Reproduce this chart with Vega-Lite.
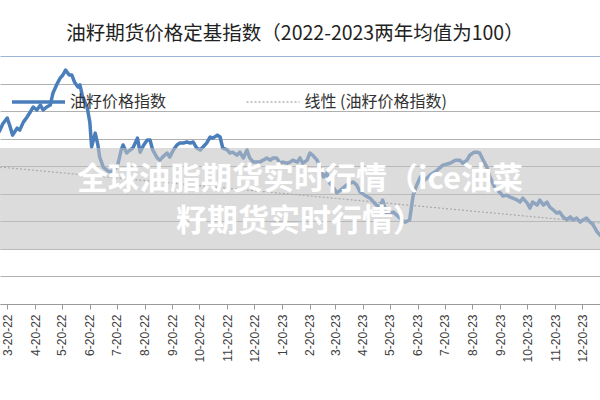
{
  "$schema": "https://vega.github.io/schema/vega-lite/v6.json",
  "width": 600,
  "height": 248,
  "autosize": {"type": "none"},
  "padding": {"top": 56, "left": 0, "right": 0, "bottom": 96},
  "background": "white",
  "config": {"view": {"stroke": null}},
  "title": {
    "text": "油籽期货价格定基指数（2022-2023两年均值为100）",
    "font": "Noto Sans CJK SC",
    "fontSize": 19.5,
    "fontWeight": "normal",
    "color": "#222222",
    "anchor": "middle",
    "offset": 12,
    "dx": -5
  },
  "datasets": {
    "price": [
      {"date": "2022-03-09", "value": 121.5, "series": "油籽价格指数"},
      {"date": "2022-03-12", "value": 123.1, "series": "油籽价格指数"},
      {"date": "2022-03-15", "value": 125.3, "series": "油籽价格指数"},
      {"date": "2022-03-20", "value": 127.5, "series": "油籽价格指数"},
      {"date": "2022-03-23", "value": 124.6, "series": "油籽价格指数"},
      {"date": "2022-03-26", "value": 121.3, "series": "油籽价格指数"},
      {"date": "2022-03-31", "value": 123.8, "series": "油籽价格指数"},
      {"date": "2022-04-03", "value": 123.1, "series": "油籽价格指数"},
      {"date": "2022-04-07", "value": 126.0, "series": "油籽价格指数"},
      {"date": "2022-04-11", "value": 127.8, "series": "油籽价格指数"},
      {"date": "2022-04-14", "value": 129.3, "series": "油籽价格指数"},
      {"date": "2022-04-18", "value": 131.5, "series": "油籽价格指数"},
      {"date": "2022-04-22", "value": 130.4, "series": "油籽价格指数"},
      {"date": "2022-04-26", "value": 132.2, "series": "油籽价格指数"},
      {"date": "2022-04-29", "value": 130.4, "series": "油籽价格指数"},
      {"date": "2022-05-03", "value": 131.5, "series": "油籽价格指数"},
      {"date": "2022-05-07", "value": 132.2, "series": "油籽价格指数"},
      {"date": "2022-05-10", "value": 136.6, "series": "油籽价格指数"},
      {"date": "2022-05-14", "value": 139.5, "series": "油籽价格指数"},
      {"date": "2022-05-18", "value": 142.0, "series": "油籽价格指数"},
      {"date": "2022-05-21", "value": 143.1, "series": "油籽价格指数"},
      {"date": "2022-05-24", "value": 144.9, "series": "油籽价格指数"},
      {"date": "2022-05-28", "value": 143.1, "series": "油籽价格指数"},
      {"date": "2022-05-31", "value": 143.1, "series": "油籽价格指数"},
      {"date": "2022-06-03", "value": 140.5, "series": "油籽价格指数"},
      {"date": "2022-06-07", "value": 138.7, "series": "油籽价格指数"},
      {"date": "2022-06-09", "value": 139.5, "series": "油籽价格指数"},
      {"date": "2022-06-12", "value": 135.1, "series": "油籽价格指数"},
      {"date": "2022-06-17", "value": 131.5, "series": "油籽价格指数"},
      {"date": "2022-06-20", "value": 126.0, "series": "油籽价格指数"},
      {"date": "2022-06-22", "value": 117.0, "series": "油籽价格指数"},
      {"date": "2022-06-26", "value": 122.0, "series": "油籽价格指数"},
      {"date": "2022-06-29", "value": 117.7, "series": "油籽价格指数"},
      {"date": "2022-07-01", "value": 113.3, "series": "油籽价格指数"},
      {"date": "2022-07-05", "value": 109.7, "series": "油籽价格指数"},
      {"date": "2022-07-09", "value": 108.6, "series": "油籽价格指数"},
      {"date": "2022-07-12", "value": 107.9, "series": "油籽价格指数"},
      {"date": "2022-07-17", "value": 108.6, "series": "油籽价格指数"},
      {"date": "2022-07-21", "value": 110.4, "series": "油籽价格指数"},
      {"date": "2022-07-25", "value": 115.9, "series": "油籽价格指数"},
      {"date": "2022-07-27", "value": 117.7, "series": "油籽价格指数"},
      {"date": "2022-07-31", "value": 114.8, "series": "油籽价格指数"},
      {"date": "2022-08-04", "value": 115.9, "series": "油籽价格指数"},
      {"date": "2022-08-07", "value": 116.6, "series": "油籽价格指数"},
      {"date": "2022-08-12", "value": 120.2, "series": "油籽价格指数"},
      {"date": "2022-08-15", "value": 115.1, "series": "油籽价格指数"},
      {"date": "2022-08-19", "value": 117.7, "series": "油籽价格指数"},
      {"date": "2022-08-23", "value": 119.5, "series": "油籽价格指数"},
      {"date": "2022-08-26", "value": 119.5, "series": "油籽价格指数"},
      {"date": "2022-08-29", "value": 115.9, "series": "油籽价格指数"},
      {"date": "2022-09-03", "value": 113.0, "series": "油籽价格指数"},
      {"date": "2022-09-06", "value": 112.2, "series": "油籽价格指数"},
      {"date": "2022-09-09", "value": 113.3, "series": "油籽价格指数"},
      {"date": "2022-09-14", "value": 114.8, "series": "油籽价格指数"},
      {"date": "2022-09-17", "value": 113.3, "series": "油籽价格指数"},
      {"date": "2022-09-21", "value": 115.9, "series": "油籽价格指数"},
      {"date": "2022-09-25", "value": 117.7, "series": "油籽价格指数"},
      {"date": "2022-09-28", "value": 118.4, "series": "油籽价格指数"},
      {"date": "2022-10-02", "value": 118.4, "series": "油籽价格指数"},
      {"date": "2022-10-06", "value": 118.8, "series": "油籽价格指数"},
      {"date": "2022-10-10", "value": 118.4, "series": "油籽价格指数"},
      {"date": "2022-10-13", "value": 118.8, "series": "油籽价格指数"},
      {"date": "2022-10-17", "value": 116.6, "series": "油籽价格指数"},
      {"date": "2022-10-21", "value": 115.9, "series": "油籽价格指数"},
      {"date": "2022-10-24", "value": 117.0, "series": "油籽价格指数"},
      {"date": "2022-10-28", "value": 118.4, "series": "油籽价格指数"},
      {"date": "2022-11-01", "value": 120.6, "series": "油籽价格指数"},
      {"date": "2022-11-04", "value": 120.2, "series": "油籽价格指数"},
      {"date": "2022-11-09", "value": 121.3, "series": "油籽价格指数"},
      {"date": "2022-11-12", "value": 120.6, "series": "油籽价格指数"},
      {"date": "2022-11-15", "value": 116.6, "series": "油籽价格指数"},
      {"date": "2022-11-20", "value": 115.9, "series": "油籽价格指数"},
      {"date": "2022-11-23", "value": 114.8, "series": "油籽价格指数"},
      {"date": "2022-11-26", "value": 115.1, "series": "油籽价格指数"},
      {"date": "2022-12-01", "value": 114.0, "series": "油籽价格指数"},
      {"date": "2022-12-04", "value": 115.1, "series": "油籽价格指数"},
      {"date": "2022-12-08", "value": 113.0, "series": "油籽价格指数"},
      {"date": "2022-12-12", "value": 115.9, "series": "油籽价格指数"},
      {"date": "2022-12-15", "value": 113.0, "series": "油籽价格指数"},
      {"date": "2022-12-19", "value": 111.5, "series": "油籽价格指数"},
      {"date": "2022-12-23", "value": 111.5, "series": "油籽价格指数"},
      {"date": "2022-12-26", "value": 111.5, "series": "油籽价格指数"},
      {"date": "2022-12-30", "value": 112.2, "series": "油籽价格指数"},
      {"date": "2023-01-03", "value": 113.0, "series": "油籽价格指数"},
      {"date": "2023-01-07", "value": 112.2, "series": "油籽价格指数"},
      {"date": "2023-01-10", "value": 113.0, "series": "油籽价格指数"},
      {"date": "2023-01-14", "value": 113.0, "series": "油籽价格指数"},
      {"date": "2023-01-18", "value": 111.1, "series": "油籽价格指数"},
      {"date": "2023-01-21", "value": 111.5, "series": "油籽价格指数"},
      {"date": "2023-01-26", "value": 111.1, "series": "油籽价格指数"},
      {"date": "2023-01-29", "value": 111.5, "series": "油籽价格指数"},
      {"date": "2023-02-01", "value": 112.2, "series": "油籽价格指数"},
      {"date": "2023-02-06", "value": 111.5, "series": "油籽价格指数"},
      {"date": "2023-02-09", "value": 113.0, "series": "油籽价格指数"},
      {"date": "2023-02-12", "value": 111.1, "series": "油籽价格指数"},
      {"date": "2023-02-17", "value": 112.2, "series": "油籽价格指数"},
      {"date": "2023-02-20", "value": 114.8, "series": "油籽价格指数"},
      {"date": "2023-02-23", "value": 114.0, "series": "油籽价格指数"},
      {"date": "2023-02-28", "value": 112.2, "series": "油籽价格指数"},
      {"date": "2023-03-03", "value": 109.7, "series": "油籽价格指数"},
      {"date": "2023-03-07", "value": 106.1, "series": "油籽价格指数"},
      {"date": "2023-03-11", "value": 107.5, "series": "油籽价格指数"},
      {"date": "2023-03-14", "value": 103.9, "series": "油籽价格指数"},
      {"date": "2023-03-18", "value": 102.4, "series": "油籽价格指数"},
      {"date": "2023-03-22", "value": 100.3, "series": "油籽价格指数"},
      {"date": "2023-03-26", "value": 101.3, "series": "油籽价格指数"},
      {"date": "2023-04-02", "value": 103.2, "series": "油籽价格指数"},
      {"date": "2023-04-09", "value": 104.3, "series": "油籽价格指数"},
      {"date": "2023-04-13", "value": 103.2, "series": "油籽价格指数"},
      {"date": "2023-04-17", "value": 100.6, "series": "油籽价格指数"},
      {"date": "2023-04-22", "value": 99.5, "series": "油籽价格指数"},
      {"date": "2023-04-28", "value": 98.4, "series": "油籽价格指数"},
      {"date": "2023-05-03", "value": 96.6, "series": "油籽价格指数"},
      {"date": "2023-05-09", "value": 94.8, "series": "油籽价格指数"},
      {"date": "2023-05-12", "value": 97.7, "series": "油籽价格指数"},
      {"date": "2023-05-17", "value": 92.3, "series": "油籽价格指数"},
      {"date": "2023-05-24", "value": 93.4, "series": "油籽价格指数"},
      {"date": "2023-05-31", "value": 91.2, "series": "油籽价格指数"},
      {"date": "2023-06-06", "value": 89.7, "series": "油籽价格指数"},
      {"date": "2023-06-11", "value": 90.5, "series": "油籽价格指数"},
      {"date": "2023-06-15", "value": 99.5, "series": "油籽价格指数"},
      {"date": "2023-06-19", "value": 103.2, "series": "油籽价格指数"},
      {"date": "2023-06-23", "value": 106.1, "series": "油籽价格指数"},
      {"date": "2023-06-28", "value": 105.0, "series": "油籽价格指数"},
      {"date": "2023-07-04", "value": 106.8, "series": "油籽价格指数"},
      {"date": "2023-07-12", "value": 108.6, "series": "油籽价格指数"},
      {"date": "2023-07-18", "value": 110.4, "series": "油籽价格指数"},
      {"date": "2023-07-26", "value": 111.1, "series": "油籽价格指数"},
      {"date": "2023-08-01", "value": 112.2, "series": "油籽价格指数"},
      {"date": "2023-08-06", "value": 112.2, "series": "油籽价格指数"},
      {"date": "2023-08-09", "value": 111.1, "series": "油籽价格指数"},
      {"date": "2023-08-14", "value": 112.2, "series": "油籽价格指数"},
      {"date": "2023-08-17", "value": 114.0, "series": "油籽价格指数"},
      {"date": "2023-08-22", "value": 115.1, "series": "油籽价格指数"},
      {"date": "2023-08-25", "value": 115.1, "series": "油籽价格指数"},
      {"date": "2023-08-28", "value": 114.8, "series": "油籽价格指数"},
      {"date": "2023-09-01", "value": 112.2, "series": "油籽价格指数"},
      {"date": "2023-09-05", "value": 109.7, "series": "油籽价格指数"},
      {"date": "2023-09-09", "value": 105.7, "series": "油籽价格指数"},
      {"date": "2023-09-14", "value": 102.1, "series": "油籽价格指数"},
      {"date": "2023-09-20", "value": 100.3, "series": "油籽价格指数"},
      {"date": "2023-09-23", "value": 99.2, "series": "油籽价格指数"},
      {"date": "2023-09-27", "value": 99.5, "series": "油籽价格指数"},
      {"date": "2023-10-01", "value": 98.8, "series": "油籽价格指数"},
      {"date": "2023-10-04", "value": 98.4, "series": "油籽价格指数"},
      {"date": "2023-10-09", "value": 97.7, "series": "油籽价格指数"},
      {"date": "2023-10-12", "value": 97.0, "series": "油籽价格指数"},
      {"date": "2023-10-15", "value": 98.4, "series": "油籽价格指数"},
      {"date": "2023-10-20", "value": 96.6, "series": "油籽价格指数"},
      {"date": "2023-10-23", "value": 94.8, "series": "油籽价格指数"},
      {"date": "2023-10-26", "value": 97.0, "series": "油籽价格指数"},
      {"date": "2023-10-31", "value": 95.9, "series": "油籽价格指数"},
      {"date": "2023-11-03", "value": 97.7, "series": "油籽价格指数"},
      {"date": "2023-11-07", "value": 95.9, "series": "油籽价格指数"},
      {"date": "2023-11-11", "value": 97.0, "series": "油籽价格指数"},
      {"date": "2023-11-14", "value": 95.2, "series": "油籽价格指数"},
      {"date": "2023-11-18", "value": 94.1, "series": "油籽价格指数"},
      {"date": "2023-11-22", "value": 93.0, "series": "油籽价格指数"},
      {"date": "2023-11-25", "value": 93.4, "series": "油籽价格指数"},
      {"date": "2023-11-29", "value": 91.6, "series": "油籽价格指数"},
      {"date": "2023-12-03", "value": 90.5, "series": "油籽价格指数"},
      {"date": "2023-12-07", "value": 91.6, "series": "油籽价格指数"},
      {"date": "2023-12-10", "value": 90.5, "series": "油籽价格指数"},
      {"date": "2023-12-14", "value": 91.2, "series": "油籽价格指数"},
      {"date": "2023-12-18", "value": 89.7, "series": "油籽价格指数"},
      {"date": "2023-12-21", "value": 90.5, "series": "油籽价格指数"},
      {"date": "2023-12-25", "value": 91.2, "series": "油籽价格指数"},
      {"date": "2023-12-29", "value": 89.7, "series": "油籽价格指数"},
      {"date": "2024-01-01", "value": 88.9, "series": "油籽价格指数"},
      {"date": "2024-01-06", "value": 86.1, "series": "油籽价格指数"},
      {"date": "2024-01-09", "value": 85.0, "series": "油籽价格指数"},
      {"date": "2024-01-12", "value": 84.0, "series": "油籽价格指数"}
    ],
    "trend": [
      {"date": "2022-03-12", "value": 109.7, "series": "线性 (油籽价格指数)"},
      {"date": "2024-01-09", "value": 89.4, "series": "线性 (油籽价格指数)"}
    ],
    "annot": [
      {"date": "2023-02-09", "value": 105.0, "text": "全球油脂期货实时行情（ice油菜"},
      {"date": "2023-02-09", "value": 89.9, "text": "籽期货实时行情）"}
    ]
  },
  "layer": [
    {
      "data": {"name": "trend"},
      "mark": {"type": "line", "clip": true, "strokeWidth": 1.2, "strokeDash": [2, 2]},
      "encoding": {
        "x": {
          "field": "date", "type": "temporal",
          "scale": {"domain": [{"year": 2022, "month": 3, "date": 12}, {"year": 2024, "month": 1, "date": 9}]},
          "axis": {
            "values": [
              {"year": 2022, "month": 3, "date": 20}, {"year": 2022, "month": 4, "date": 20},
              {"year": 2022, "month": 5, "date": 20}, {"year": 2022, "month": 6, "date": 20},
              {"year": 2022, "month": 7, "date": 20}, {"year": 2022, "month": 8, "date": 20},
              {"year": 2022, "month": 9, "date": 20}, {"year": 2022, "month": 10, "date": 20},
              {"year": 2022, "month": 11, "date": 20}, {"year": 2022, "month": 12, "date": 20},
              {"year": 2023, "month": 1, "date": 20}, {"year": 2023, "month": 2, "date": 20},
              {"year": 2023, "month": 3, "date": 20}, {"year": 2023, "month": 4, "date": 20},
              {"year": 2023, "month": 5, "date": 20}, {"year": 2023, "month": 6, "date": 20},
              {"year": 2023, "month": 7, "date": 20}, {"year": 2023, "month": 8, "date": 20},
              {"year": 2023, "month": 9, "date": 20}, {"year": 2023, "month": 10, "date": 20},
              {"year": 2023, "month": 11, "date": 20}, {"year": 2023, "month": 12, "date": 20}
            ],
            "tickCount": 40,
            "format": "%-m-%d-%y",
            "labelAngle": -90,
            "title": null,
            "grid": false,
            "domainColor": "#9a9a9a",
            "tickColor": "#9a9a9a",
            "tickSize": 5,
            "labelFont": "Liberation Sans",
            "labelFontSize": 12,
            "labelColor": "#404040",
            "labelPadding": 5,
            "labelOverlap": false,
            "labelBound": false,
            "labelFlush": false
          }
        },
        "y": {
          "field": "value", "type": "quantitative",
          "scale": {"domain": [60, 150], "nice": false, "zero": false},
          "axis": {
            "values": [60, 70, 80, 90, 100, 110, 120, 130, 140, 150],
            "tickCount": 20,
            "labels": false, "ticks": false, "domain": false, "title": null,
            "grid": true,
            "gridColor": {"condition": {"test": "datum.value === 150", "value": "#9db5d6"}, "value": "#b0b0b0"},
            "gridWidth": 1
          }
        },
        "color": {
          "field": "series", "type": "nominal",
          "scale": {"domain": ["油籽价格指数", "线性 (油籽价格指数)"], "range": ["#4a7ebb", "#8a8a8a"]},
          "legend": {
            "orient": "none",
            "legendX": 30.5,
            "legendY": 38,
            "direction": "horizontal",
            "title": null,
            "padding": 0,
            "symbolType": "stroke",
            "symbolSize": 2809,
            "symbolStrokeWidth": 3.5,
            "labelFont": "Noto Sans CJK SC",
            "labelFontSize": 16,
            "labelColor": "#333333",
            "labelOffset": 23.5,
            "labelLimit": 300,
            "columnPadding": 77.5,
            "encode": {
              "symbols": {
                "update": {
                  "strokeWidth": {"signal": "datum.value === '油籽价格指数' ? 3.5 : 1.2"},
                  "strokeDash": {"signal": "datum.value === '油籽价格指数' ? [] : [2, 2]"}
                }
              }
            }
          }
        }
      }
    },
    {
      "data": {"name": "price"},
      "mark": {"type": "line", "clip": true, "strokeWidth": 3.5, "strokeJoin": "round"},
      "encoding": {
        "x": {"field": "date", "type": "temporal"},
        "y": {"field": "value", "type": "quantitative"},
        "color": {"field": "series", "type": "nominal"}
      }
    },
    {
      "data": {"values": [{}]},
      "mark": {"type": "rect", "fill": "#c2c2c2", "fillOpacity": 0.575, "strokeWidth": 0},
      "encoding": {
        "y": {"datum": 116.6, "type": "quantitative"},
        "y2": {"datum": 79.6}
      }
    },
    {
      "data": {"name": "annot"},
      "mark": {"type": "text", "font": "Noto Sans CJK SC", "fontSize": 31, "fontWeight": "bold", "color": "white", "align": "center", "baseline": "middle"},
      "encoding": {
        "x": {"field": "date", "type": "temporal"},
        "y": {"field": "value", "type": "quantitative"},
        "text": {"field": "text"}
      }
    }
  ]
}
